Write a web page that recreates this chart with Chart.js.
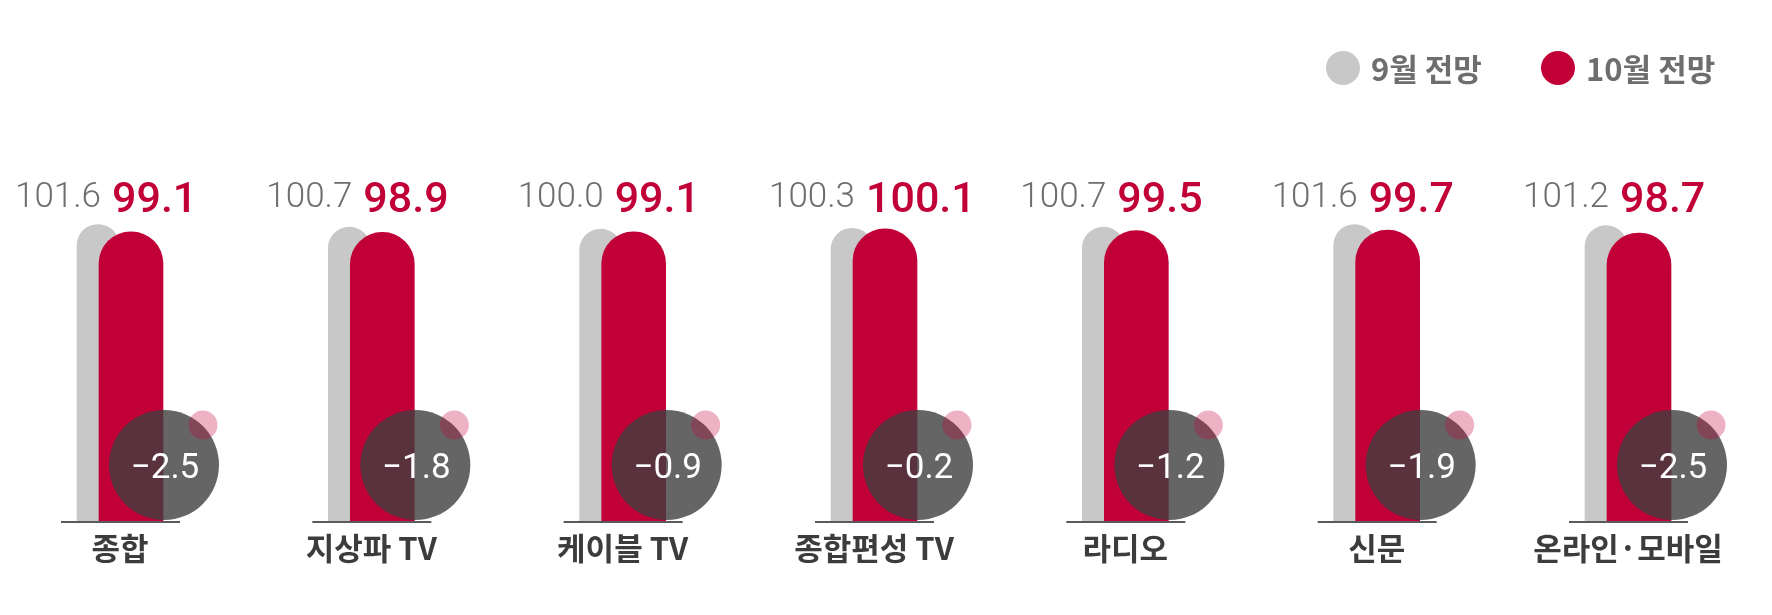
<!DOCTYPE html>
<html><head><meta charset="utf-8">
<script src="https://cdn.jsdelivr.net/npm/chart.js@4/dist/chart.umd.min.js"></script>
<style>html,body{margin:0;padding:0;background:#fff}#wrap{width:1772px;height:615px;position:relative}</style>
</head><body><div id="wrap"><canvas id="c"></canvas></div>
<script>
const categories = ['종합', '지상파 TV', '케이블 TV', '종합편성 TV', '라디오', '신문', '온라인·모바일'];
const sepValues = [101.6, 100.7, 100.0, 100.3, 100.7, 101.6, 101.2];
const octValues = [99.1, 98.9, 99.1, 100.1, 99.5, 99.7, 98.7];
const diffValues = [-2.5, -1.8, -0.9, -0.2, -1.2, -1.9, -2.5];
const seriesNames = ['9월 전망', '10월 전망'];

const GRAY = '#c8c8c8', RED = '#c20038';
const SHIFT = [-22, 11];

const shiftPlugin = {
  id: 'shift',
  beforeDatasetDraw(chart, args) { chart.ctx.save(); chart.ctx.translate(SHIFT[args.index], 0); },
  afterDatasetDraw(chart) { chart.ctx.restore(); }
};

const decoPlugin = {
  id: 'deco',
  afterDatasetsDraw(chart) {
    const ctx = chart.ctx, xs = chart.scales.x, ys = chart.scales.y;
    const base = ys.getPixelForValue(0);
    categories.forEach((c, i) => {
      const cx = xs.getPixelForValue(i);
      ctx.save();
      ctx.fillStyle = 'rgba(62,62,62,0.8)';
      ctx.beginPath(); ctx.arc(cx + 44, base - 56, 55, 0, Math.PI * 2); ctx.fill();
      ctx.fillStyle = 'rgba(195,0,55,0.3)';
      ctx.beginPath(); ctx.arc(cx + 83, base - 96, 14.5, 0, Math.PI * 2); ctx.fill();
      ctx.fillStyle = '#ffffff';
      ctx.font = '35px Roboto';
      ctx.textAlign = 'center'; ctx.textBaseline = 'alphabetic';
      ctx.fillText('\u2212' + Math.abs(diffValues[i]).toFixed(1), cx + 45, base - 43);
      ctx.strokeStyle = '#5a5a5a'; ctx.lineWidth = 2;
      ctx.beginPath(); ctx.moveTo(cx - 59, base + 1); ctx.lineTo(cx + 60, base + 1); ctx.stroke();
      ctx.textAlign = 'right'; ctx.fillStyle = '#6e6e6e';
      ctx.font = '300 35px Roboto';
      ctx.fillText(sepValues[i].toFixed(1), cx - 19, 207);
      ctx.textAlign = 'left'; ctx.fillStyle = RED;
      ctx.font = '500 43px Roboto';
      ctx.fillText(octValues[i].toFixed(1), cx - 8, 212);
      ctx.restore();
    });
    ctx.save();
    const items = [{x: 1343, color: GRAY}, {x: 1558, color: RED}];
    items.forEach((it, k) => {
      ctx.fillStyle = it.color;
      ctx.beginPath(); ctx.arc(it.x, 68, 17, 0, Math.PI * 2); ctx.fill();
      ctx.fillStyle = '#6e6e6e';
      ctx.font = 'bold 31px "Noto Sans CJK KR"';
      ctx.textAlign = 'left'; ctx.textBaseline = 'middle';
      ctx.fillText(seriesNames[k], it.x + 28, 69);
    });
    ctx.restore();
  }
};

new Chart(document.getElementById('c'), {
  type: 'bar',
  data: {
    labels: categories,
    datasets: [
      { label: seriesNames[0], data: sepValues, backgroundColor: GRAY, barThickness: 42, borderRadius: 21, borderSkipped: 'start', grouped: false, order: 2, clip: false },
      { label: seriesNames[1], data: octValues, backgroundColor: RED, barThickness: 64, borderRadius: 32, borderSkipped: 'start', grouped: false, order: 1, clip: false }
    ]
  },
  options: {
    responsive: true, maintainAspectRatio: false, animation: false,
    layout: { padding: { left: 120, right: 144, top: 200, bottom: 0 } },
    plugins: { legend: { display: false }, tooltip: { enabled: false } },
    scales: {
      x: {
        offset: false,
        afterFit(scale) { scale.height = 94; },
        grid: { display: false, drawTicks: false },
        border: { display: false },
        ticks: { color: '#3c3c3c', padding: 9, maxRotation: 0, autoSkip: false,
          font: { family: '"Noto Sans CJK KR"', size: 31, weight: 'bold' } }
      },
      y: { display: false, min: 0, max: 110 }
    }
  },
  plugins: [shiftPlugin, decoPlugin]
});
</script></body></html>
